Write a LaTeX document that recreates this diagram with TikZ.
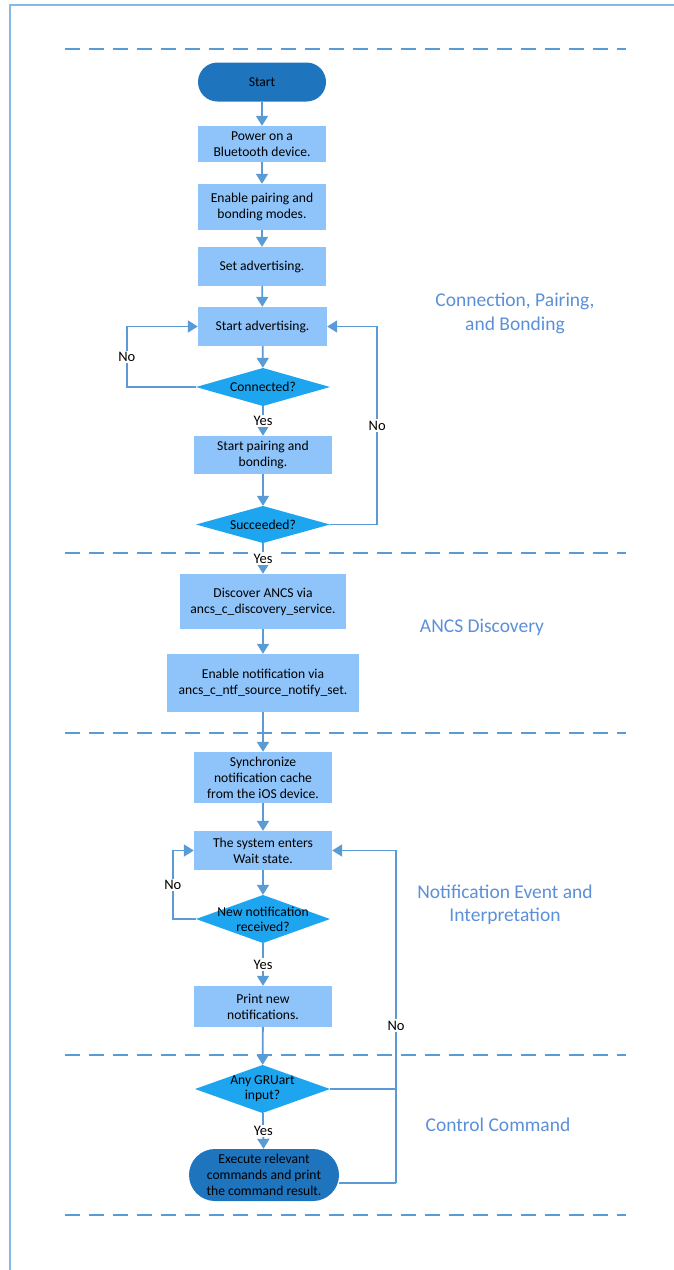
\documentclass[tikz,border=0pt]{standalone}
\usepackage{fontspec}
\setmainfont{Carlito}
\usetikzlibrary{arrows.meta}
\definecolor{lc}{HTML}{5B9BD5}
\definecolor{framec}{HTML}{85BAE6}
\definecolor{boxc}{HTML}{8EC4FA}
\definecolor{diac}{HTML}{1DA5F0}
\definecolor{termc}{HTML}{1F74BE}
\definecolor{secc}{HTML}{5B90D8}
\tikzset{
  ln/.style={draw=lc, line width=1.8pt},
  arr/.style={ln, -{Triangle[width=12pt,length=10pt]}},
  box/.style={fill=boxc, inner sep=0pt, align=center, font=\fontsize{13.6}{16}\selectfont},
  term/.style={fill=termc, inner sep=0pt, align=center, font=\fontsize{13.6}{16}\selectfont},
  dia/.style={inner sep=0pt, align=center, font=\fontsize{13.6}{15}\selectfont,
    path picture={\fill[diac] (path picture bounding box.north) -- (path picture bounding box.east) -- (path picture bounding box.south) -- (path picture bounding box.west) -- cycle;}},
  sec/.style={text=secc, align=center, font=\fontsize{19.5}{23.5}\selectfont},
  lab/.style={fill=white, inner sep=1.5pt, font=\fontsize{14.5}{16}\selectfont},
  sep/.style={draw=lc, line width=1.8pt, dash pattern=on 15pt off 9pt}
}
\begin{document}
\begin{tikzpicture}[x=1pt,y=-1pt]
\useasboundingbox (0,0) rectangle (673,1270);
% frame
\draw[framec, line width=2pt] (10,1272) -- (10,4.5) -- (675,4.5);
% separators
\foreach \yy in {49,553,733,1055,1215} \draw[sep] (65,\yy) -- (626,\yy);
% nodes
\node[term, minimum width=128pt, minimum height=39pt, rounded corners=19.5pt] (start) at (262,82) {Start};
\node[box, minimum width=128pt, minimum height=36pt] (power) at (262,144) {Power on a\\Bluetooth device.};
\node[box, minimum width=128pt, minimum height=46pt] (enable) at (262,207) {Enable pairing and\\bonding modes.};
\node[box, minimum width=128pt, minimum height=39pt] (setadv) at (262,266.5) {Set advertising.};
\node[box, minimum width=129pt, minimum height=39pt] (startadv) at (262.5,326.5) {Start advertising.};
\node[dia, minimum width=134pt, minimum height=38pt] (conn) at (263,387) {Connected?};
\node[box, minimum width=138pt, minimum height=38pt] (pair) at (263,455) {Start pairing and\\bonding.};
\node[dia, minimum width=134pt, minimum height=37pt] (succ) at (263,524.5) {Succeeded?};
\node[box, minimum width=166pt, minimum height=55pt] (disc) at (263,601.5) {Discover ANCS via\\ancs\_c\_discovery\_service.};
\node[box, minimum width=192pt, minimum height=58pt] (ntf) at (263,683) {Enable notification via\\ancs\_c\_ntf\_source\_notify\_set.};
\node[box, minimum width=138pt, minimum height=51pt] (sync) at (263,777.5) {Synchronize\\notification cache\\from the iOS device.};
\node[box, minimum width=138pt, minimum height=39pt] (wait) at (263,850.5) {The system enters\\Wait state.};
\node[dia, minimum width=134pt, minimum height=48pt] (newn) at (263,919) {New notification\\received?};
\node[box, minimum width=138pt, minimum height=41pt] (print) at (263,1006.5) {Print new\\notifications.};
\node[dia, minimum width=135pt, minimum height=48pt] (gru) at (262.5,1089) {Any GRUart\\input?};
\node[term, minimum width=150pt, minimum height=52pt, rounded corners=26pt] (exec) at (264,1175) {Execute relevant\\commands and print\\the command result.};
% section labels
\node[sec] (s1) at (515,313.5) {Connection, Pairing,\\and Bonding};
\node[sec] (s2) at (482,627) {ANCS Discovery};
\node[sec] (s3) at (505,905) {Notification Event and\\Interpretation};
\node[sec] (s4) at (498,1125) {Control Command};
% main flow
\draw[arr] (start) -- (power);
\draw[arr] (power) -- (enable);
\draw[arr] (enable) -- (setadv);
\draw[arr] (setadv) -- (startadv);
\draw[arr] (startadv) -- (conn);
\draw[arr] (conn) -- node[lab]{Yes} (pair);
\draw[arr] (pair) -- (succ);
\draw[arr] (succ) -- node[lab]{Yes} (disc);
\draw[arr] (disc) -- (ntf);
\draw[arr] (ntf) -- (sync);
\draw[arr] (sync) -- (wait);
\draw[arr] (wait) -- (newn);
\draw[arr] (newn) -- node[lab]{Yes} (print);
\draw[arr] (print) -- (gru);
\draw[arr] (gru) -- node[lab]{Yes} (exec);
% loops
\draw[arr] (conn.west) -- ++(-69,0) |- node[lab,pos=0.25]{No} (startadv.west);
\draw[arr] (succ.east) -- ++(47,0) |- node[lab,pos=0.25]{No} (startadv.east);
\draw[arr] (newn.west) -- ++(-23,0) |- node[lab,pos=0.25]{No} (wait.west);
\coordinate (r1) at (396,1183);
\draw[ln] (gru.east) -- (gru.east -| r1);
\draw[ln] (exec.east |- r1) -- (r1);
\draw[arr] (r1) |- node[lab,pos=0.237]{No} (wait.east);
\end{tikzpicture}
\end{document}
